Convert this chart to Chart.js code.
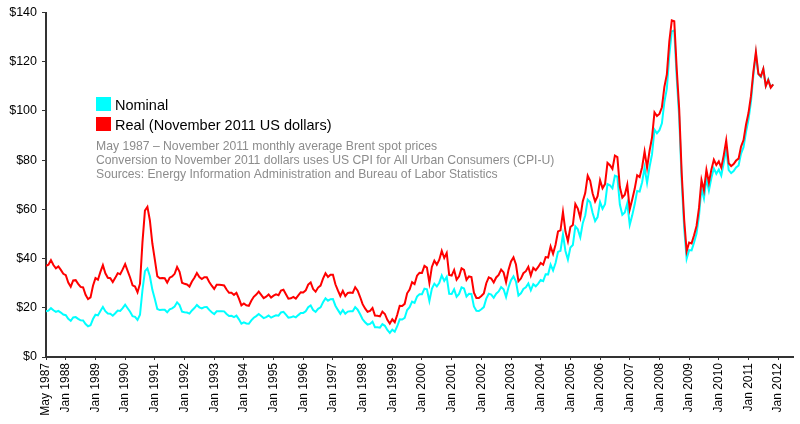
<!DOCTYPE html>
<html>
<head>
<meta charset="utf-8">
<script src="https://cdn.jsdelivr.net/npm/chart.js@4.4.0/dist/chart.umd.min.js"></script>
<style>
  html, body { margin: 0; padding: 0; background: #fff; }
  #wrap { width: 800px; height: 424px; }
</style>
</head>
<body>
<div id="wrap"><canvas id="chart" width="800" height="424"></canvas></div>
<script>
// monthly Brent spot, May 1987 .. Nov 2011 (index 0 = May 1987)
let nominal = [
  18.58, 18.86, 19.86, 18.98, 18.31, 18.76, 18.06, 17.26,
  17.00, 15.51, 14.71, 16.10, 16.22, 15.50, 14.91, 14.86, 13.40, 12.50, 12.88, 15.43,
  17.17, 16.89, 18.70, 20.32, 18.63, 17.67, 17.62, 16.77, 17.77, 18.91, 18.73, 19.84,
  21.25, 19.81, 18.39, 16.61, 16.35, 15.10, 17.17, 27.17, 34.90, 36.02, 32.82, 27.28,
  23.57, 19.54, 19.08, 19.18, 19.19, 18.17, 19.40, 19.77, 20.50, 22.21, 21.11, 18.41,
  18.16, 18.05, 17.63, 18.92, 19.89, 21.16, 20.19, 19.74, 20.27, 20.30, 19.13, 18.17,
  17.43, 18.58, 18.63, 18.63, 18.55, 17.51, 16.67, 16.73, 16.19, 16.80, 15.31, 13.52,
  14.07, 13.63, 13.52, 14.87, 15.94, 16.61, 17.44, 16.64, 15.81, 16.21, 16.83, 15.99,
  16.55, 16.98, 16.81, 18.12, 18.37, 17.20, 15.96, 16.12, 16.54, 16.11, 17.02, 17.87,
  17.91, 18.54, 20.25, 20.95, 19.11, 18.38, 19.58, 20.18, 22.21, 23.83, 22.83, 23.46,
  23.53, 20.85, 19.14, 17.55, 19.04, 17.54, 18.46, 18.61, 18.57, 20.26, 19.23, 17.38,
  15.33, 14.12, 13.18, 13.46, 14.34, 12.11, 12.06, 11.91, 13.34, 12.68, 10.96, 9.82,
  11.12, 10.27, 12.51, 15.29, 15.23, 15.87, 19.08, 20.22, 22.54, 22.01, 24.58, 25.47,
  25.51, 27.78, 27.49, 22.76, 27.74, 29.80, 28.68, 30.20, 33.14, 30.96, 32.55, 25.66,
  25.62, 27.50, 24.50, 25.66, 28.31, 27.85, 24.61, 25.68, 25.62, 20.54, 18.80, 18.71,
  19.42, 20.28, 23.70, 25.73, 25.35, 24.08, 25.74, 26.65, 28.40, 27.54, 24.34, 28.33,
  31.18, 32.77, 30.61, 25.00, 25.86, 27.65, 28.35, 29.89, 27.11, 29.61, 28.75, 29.81,
  31.28, 30.86, 33.63, 33.59, 37.57, 35.18, 38.22, 42.74, 43.20, 49.78, 43.11, 39.60,
  44.51, 45.48, 53.10, 51.88, 48.65, 54.35, 57.52, 63.98, 62.91, 58.54, 55.24, 56.86,
  62.99, 60.21, 62.06, 70.26, 69.78, 68.56, 73.67, 73.23, 61.96, 57.81, 58.76, 62.47,
  53.68, 57.56, 62.05, 67.49, 67.21, 71.05, 76.93, 70.76, 77.17, 82.34, 92.41, 90.93,
  92.18, 94.99, 103.64, 109.07, 122.80, 132.32, 132.72, 113.24, 97.23, 71.58, 52.45, 39.95,
  43.44, 43.32, 46.54, 50.18, 57.30, 68.61, 64.44, 72.51, 67.65, 72.77, 76.66, 74.46,
  76.17, 73.75, 78.83, 84.82, 75.95, 74.76, 75.58, 77.04, 77.84, 82.67, 85.28, 91.45,
  96.52, 103.72, 114.64, 123.26, 114.99, 113.83, 116.97, 110.22, 112.83, 109.55, 110.77
];

// same months in November 2011 dollars
let real = [
  37.03, 37.49, 39.37, 37.40, 36.02, 36.80, 35.40, 33.83,
  33.24, 30.24, 28.56, 31.10, 31.23, 29.71, 28.46, 28.25, 25.30, 23.52, 24.22, 28.97,
  32.07, 31.42, 34.59, 37.34, 34.04, 32.21, 32.04, 30.44, 32.16, 34.06, 33.65, 35.59,
  37.73, 35.01, 32.32, 29.15, 28.63, 26.29, 29.79, 46.70, 59.49, 61.03, 55.49, 46.12,
  39.61, 32.79, 31.97, 32.09, 32.01, 30.22, 32.22, 32.74, 33.80, 36.56, 34.65, 30.20,
  29.75, 29.46, 28.63, 30.68, 32.21, 34.14, 32.51, 31.69, 32.45, 32.38, 30.47, 28.97,
  27.65, 29.37, 29.35, 29.26, 29.10, 27.43, 26.11, 26.14, 25.24, 26.08, 23.75, 20.97,
  21.77, 21.02, 20.78, 22.82, 24.45, 25.39, 26.58, 25.26, 23.94, 24.53, 25.43, 24.16,
  24.91, 25.45, 25.12, 26.98, 27.30, 25.51, 23.67, 23.85, 24.42, 23.71, 25.07, 26.33,
  26.24, 27.07, 29.42, 30.32, 27.60, 26.53, 28.21, 29.02, 31.84, 34.05, 32.56, 33.46,
  33.45, 29.55, 27.06, 24.78, 26.90, 24.75, 26.02, 26.18, 26.06, 28.36, 26.93, 24.37,
  21.46, 19.73, 18.38, 18.74, 19.92, 16.81, 16.72, 16.49, 18.44, 17.49, 15.12, 13.55,
  15.31, 14.12, 17.15, 20.81, 20.73, 21.60, 25.89, 27.37, 30.37, 29.60, 33.04, 34.23,
  34.18, 37.01, 36.32, 30.05, 36.59, 39.10, 37.54, 39.53, 43.16, 40.25, 42.29, 33.36,
  33.10, 35.38, 31.45, 32.81, 36.04, 35.39, 31.36, 32.73, 32.50, 26.15, 23.97, 23.95,
  24.80, 25.80, 29.98, 32.37, 31.89, 30.28, 32.33, 33.36, 35.49, 34.36, 30.37, 35.42,
  38.82, 40.48, 37.59, 30.77, 31.88, 34.05, 34.87, 36.63, 33.11, 36.20, 35.25, 36.59,
  38.21, 37.49, 40.59, 40.42, 44.94, 41.95, 45.65, 51.02, 51.46, 58.98, 51.06, 47.07,
  52.80, 53.64, 62.14, 60.31, 56.61, 63.21, 66.59, 73.69, 71.58, 66.47, 63.23, 65.36,
  71.85, 68.54, 70.26, 78.87, 77.94, 76.43, 81.88, 81.24, 69.07, 64.80, 65.96, 70.02,
  59.99, 63.98, 68.34, 73.85, 73.12, 77.12, 83.54, 76.99, 83.72, 89.16, 99.44, 97.94,
  98.77, 101.50, 109.81, 114.86, 128.24, 136.79, 136.46, 116.91, 100.52, 74.75, 55.86, 42.99,
  46.55, 46.18, 49.50, 53.24, 60.59, 71.95, 67.67, 76.00, 70.84, 76.14, 80.17, 78.01,
  79.51, 76.98, 81.94, 88.01, 78.74, 77.57, 78.42, 79.83, 80.62, 85.51, 88.16, 94.37,
  99.15, 106.01, 116.03, 123.97, 115.09, 114.08, 117.12, 110.08, 112.48, 109.45, 110.77
];

let tickMonths = [0, 8, 20, 32, 44, 56, 68, 80, 92, 104, 116, 128, 140, 152, 164, 176, 188, 200, 212, 224, 236, 248, 260, 272, 284, 296];
let tickLabels = ['May 1987', 'Jan 1988', 'Jan 1989', 'Jan 1990', 'Jan 1991', 'Jan 1992', 'Jan 1993', 'Jan 1994',
  'Jan 1995', 'Jan 1996', 'Jan 1997', 'Jan 1998', 'Jan 1999', 'Jan 2000', 'Jan 2001', 'Jan 2002', 'Jan 2003',
  'Jan 2004', 'Jan 2005', 'Jan 2006', 'Jan 2007', 'Jan 2008', 'Jan 2009', 'Jan 2010', 'Jan 2011', 'Jan 2012'];

let seriesNames = ['Nominal', 'Real (November 2011 US dollars)'];
let notes = [
  'May 1987 \u2013 November 2011 monthly average Brent spot prices',
  'Conversion to November 2011 dollars uses US CPI for All Urban Consumers (CPI-U)',
  'Sources: Energy Information Administration and Bureau of Labor Statistics'
];

let nominalColor = '#00ffff';
let realColor = '#ff0000';
let fontFamily = '"Liberation Sans", Arial, sans-serif';

// legend + notes drawn inside the plot
const notesPlugin = {
    id: 'notes',
    afterDraw: function(chart) {
        let ctx = chart.ctx;
        ctx.save();
        let boxes = [nominalColor, realColor];
        ctx.textBaseline = 'middle';
        ctx.textAlign = 'left';
        ctx.font = '14.5px ' + fontFamily;
        for (let i = 0; i < seriesNames.length; i++) {
            let y = 97 + i * 20;
            ctx.fillStyle = boxes[i];
            ctx.fillRect(96, y, 15, 14);
            ctx.fillStyle = '#000';
            ctx.fillText(seriesNames[i], 115, y + 8.5);
        }
        ctx.font = '12.2px ' + fontFamily;
        ctx.fillStyle = '#8c8c8c';
        for (let i = 0; i < notes.length; i++) {
            ctx.fillText(notes[i], 96, 147 + i * 14);
        }
        ctx.restore();
    }
};

let ctx = document.getElementById('chart').getContext('2d');
let myChart = new Chart(ctx, {
    type: 'line',
    data: {
        datasets: [{
            label: seriesNames[0],
            data: nominal.map((v, i) => ({ x: i, y: v })),
            borderColor: nominalColor,
            borderWidth: 2,
            pointRadius: 0,
            tension: 0,
            order: 2
        }, {
            label: seriesNames[1],
            data: real.map((v, i) => ({ x: i, y: v })),
            borderColor: realColor,
            borderWidth: 2,
            pointRadius: 0,
            tension: 0,
            order: 1
        }]
    },
    options: {
        responsive: false,
        animation: false,
        devicePixelRatio: 1,
        layout: { padding: { top: 12, right: 7, left: 0, bottom: 0 } },
        plugins: {
            legend: { display: false },
            tooltip: { enabled: false }
        },
        scales: {
            x: {
                type: 'linear',
                min: 0,
                max: 302,
                afterBuildTicks: function(axis) {
                    axis.ticks = tickMonths.map(m => ({ value: m }));
                },
                afterFit: function(axis) {
                    axis.height = 67;
                },
                grid: { drawOnChartArea: false, drawTicks: true, tickLength: 3, color: '#333' },
                border: { color: '#333', width: 2 },
                ticks: {
                    autoSkip: false,
                    minRotation: 90,
                    maxRotation: 90,
                    padding: 3,
                    color: '#000',
                    font: { family: fontFamily, size: 12 },
                    callback: function(value) {
                        let idx = tickMonths.indexOf(value);
                        return idx >= 0 ? tickLabels[idx] : '';
                    }
                }
            },
            y: {
                min: 0,
                max: 140,
                afterFit: function(axis) {
                    axis.width = 46;
                },
                grid: { drawOnChartArea: false, drawTicks: true, tickLength: 4, color: '#333' },
                border: { color: '#333', width: 2 },
                ticks: {
                    stepSize: 20,
                    padding: 5,
                    color: '#000',
                    font: { family: fontFamily, size: 12.5 },
                    callback: function(value) {
                        return '$' + value;
                    }
                }
            }
        }
    },
    plugins: [notesPlugin]
});
</script>
</body>
</html>
